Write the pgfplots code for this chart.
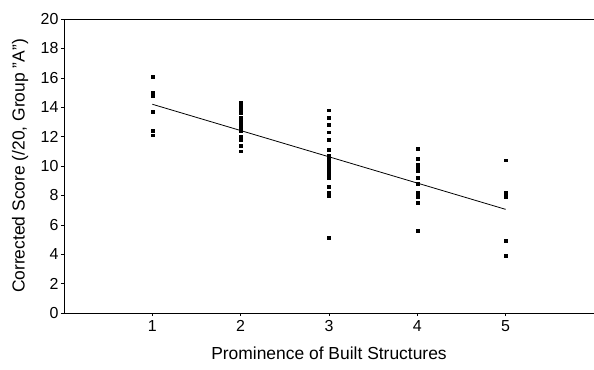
\documentclass[border=0pt]{standalone}
\usepackage{pgfplots}
\pgfplotsset{compat=1.18}
\usepackage{fontspec}
\setmainfont{Liberation Sans}
\begin{document}
\begin{tikzpicture}
\useasboundingbox (-64bp,-57bp) rectangle (530bp,313bp);
\begin{axis}[
  scale only axis,
  width=530bp, height=294bp,
  xmin=0, xmax=6, ymin=0, ymax=20,
  axis x line=bottom, axis y line=left,
  axis line style={-, black, line width=0.6pt},
  xtick={1,2,3,4,5},
  ytick={0,2,...,20},
  tick align=outside,
  major tick length=3bp,
  tick style={black, line width=0.5pt},
  /pgf/number format/assume math mode=true,
  xticklabel style={font=\fontsize{16}{19}\selectfont, yshift=-1bp},
  yticklabel style={font=\fontsize{16}{19}\selectfont, xshift=1bp},
  xlabel={Prominence of Built Structures},
  ylabel={Corrected Score (/20, Group "A")},
  xlabel style={font=\fontsize{17.5}{20}\selectfont, at={(axis description cs:0.5,-0.136)}, anchor=center},
  ylabel style={font=\fontsize{17.5}{20}\selectfont, at={(axis description cs:-0.083,0.5)}, anchor=center, rotate=0},
  clip=false,
]
\addplot[only marks, mark=square*, mark size=1.4bp, black] coordinates {
(1,16.1) (1,15.0) (1,14.8) (1,13.7) (1,12.4) (1,12.1)
(2,14.3) (2,14.1) (2,13.9) (2,13.6) (2,13.3) (2,13.1) (2,12.9) (2,12.6) (2,12.4) (2,12.0) (2,11.8) (2,11.4) (2,11.0)
(3,13.8) (3,13.3) (3,12.8) (3,12.3) (3,11.8) (3,11.1) (3,10.7) (3,10.5) (3,10.3) (3,10.0) (3,9.8) (3,9.6) (3,9.4) (3,9.2) (3,8.6) (3,8.2) (3,8.0) (3,5.1)
(4,11.2) (4,10.5) (4,10.1) (4,9.9) (4,9.7) (4,9.2) (4,8.8) (4,8.2) (4,7.9) (4,7.5) (4,5.6)
(5,10.4) (5,8.2) (5,7.9) (5,4.9) (5,3.9)
};
\addplot[black, line width=0.8pt] coordinates {(1,14.2) (5,7.05)};
\draw[black, line width=0.6pt] (rel axis cs:0,1) -- (rel axis cs:1,1);
\end{axis}
\end{tikzpicture}
\end{document}
